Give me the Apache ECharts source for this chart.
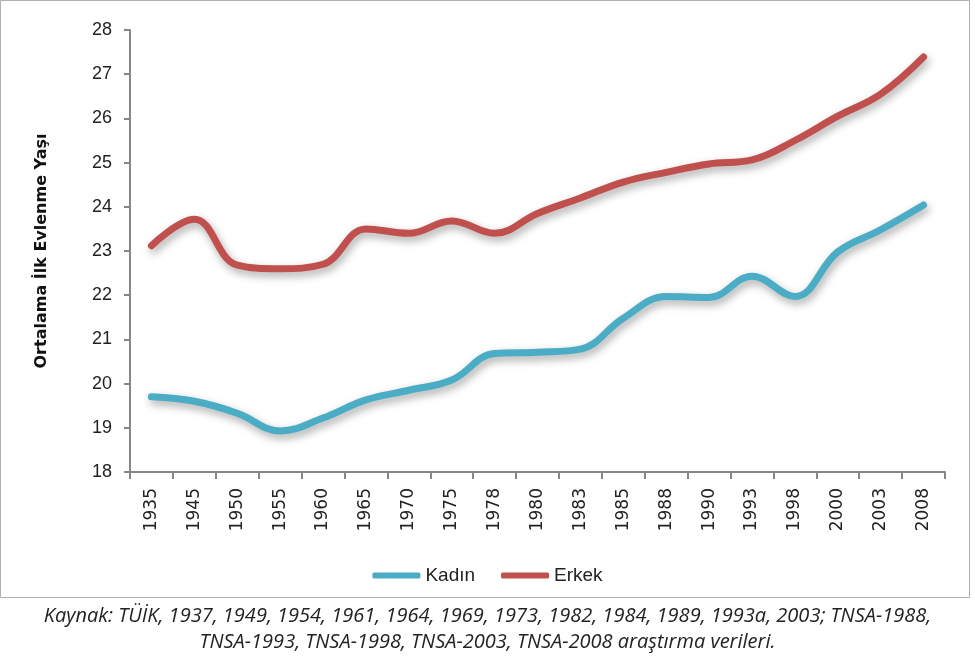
<!DOCTYPE html>
<html>
<head>
<meta charset="utf-8">
<script src="https://cdn.jsdelivr.net/npm/echarts@6/dist/echarts.min.js"></script>
<style>
html,body{margin:0;padding:0;background:#fff;}
#main{width:975px;height:664px;}
</style>
</head>
<body>
<div id="main"></div>
<script>
var years = ['1935','1945','1950','1955','1960','1965','1970','1975','1978','1980','1983','1985','1988','1990','1993','1998','2000','2003','2008'];
var kadin = [19.7,19.6,19.33,18.93,19.22,19.63,19.85,20.08,20.68,20.71,20.78,21.48,21.97,21.95,22.43,21.97,22.98,23.48,24.04];
var erkek = [23.12,23.72,22.68,22.6,22.7,23.5,23.4,23.68,23.4,23.85,24.2,24.56,24.78,24.97,25.06,25.5,26.05,26.55,27.39];
var caption = [
    'Kaynak: TÜİK, 1937, 1949, 1954, 1961, 1964, 1969, 1973, 1982, 1984, 1989, 1993a, 2003; TNSA-1988,',
    'TNSA-1993, TNSA-1998, TNSA-2003, TNSA-2008 araştırma verileri.'
];

var chart = echarts.init(document.getElementById('main'));

var capStyle = function (txt) {
    return {
        text: txt,
        fontFamily: 'Open Sans',
        fontStyle: 'italic',
        fontSize: 20,
        fill: '#222'
    };
};

var lineStyle = function (c) {
    return {
        color: c,
        width: 7,
        cap: 'round',
        shadowColor: 'rgba(0,0,0,0.35)',
        shadowBlur: 8,
        shadowOffsetX: 2,
        shadowOffsetY: 4
    };
};

var option = {
    backgroundColor: '#fff',
    animation: false,
    graphic: [
        {
            type: 'rect',
            shape: {x: 0.5, y: 0.5, width: 969, height: 597},
            style: {fill: 'none', stroke: '#b0b0b0', lineWidth: 1}
        },
        {type: 'text', left: 'center', top: 606, style: capStyle(caption[0])},
        {type: 'text', left: 'center', top: 632, style: capStyle(caption[1])}
    ],
    grid: {
        left: 130,
        right: 30,
        top: 30,
        bottom: 192
    },
    legend: {
        bottom: 74,
        left: 'center',
        itemWidth: 48,
        itemHeight: 6,
        itemGap: 26,
        icon: 'roundRect',
        textStyle: {fontFamily: 'Liberation Sans', fontSize: 19, color: '#222'},
        data: ['Kadın', 'Erkek']
    },
    xAxis: {
        type: 'category',
        data: years,
        boundaryGap: true,
        axisLine: {lineStyle: {color: '#868686', width: 2}},
        axisTick: {show: true, length: 7, lineStyle: {color: '#868686', width: 2}},
        axisLabel: {
            rotate: 90,
            interval: 0,
            margin: 16,
            fontFamily: 'DejaVu Sans',
            fontSize: 17,
            color: '#222'
        },
        splitLine: {show: false}
    },
    yAxis: {
        type: 'value',
        min: 18,
        max: 28,
        interval: 1,
        name: 'Ortalama İlk Evlenme Yaşı',
        nameLocation: 'middle',
        nameGap: 80,
        nameRotate: 90,
        nameTextStyle: {fontFamily: 'DejaVu Sans', fontWeight: 'bold', fontSize: 16, color: '#111'},
        axisLine: {show: true, lineStyle: {color: '#868686', width: 2}},
        axisTick: {show: true, length: 6, lineStyle: {color: '#868686', width: 2}},
        axisLabel: {
            margin: 18,
            fontFamily: 'Liberation Sans',
            fontSize: 18,
            color: '#222'
        },
        splitLine: {show: false}
    },
    series: [
        {
            name: 'Kadın',
            type: 'line',
            data: kadin,
            smooth: 0.4,
            symbol: 'none',
            itemStyle: {color: '#4BACC6'},
            lineStyle: lineStyle('#4BACC6')
        },
        {
            name: 'Erkek',
            type: 'line',
            data: erkek,
            smooth: 0.4,
            symbol: 'none',
            itemStyle: {color: '#C0504D'},
            lineStyle: lineStyle('#C0504D')
        }
    ]
};

chart.setOption(option);
</script>
</body>
</html>
